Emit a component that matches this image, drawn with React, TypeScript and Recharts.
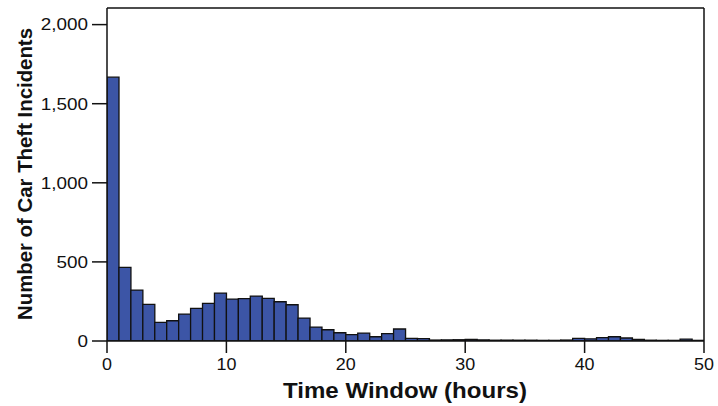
import React from 'react';
import { BarChart, Bar, XAxis, YAxis, ReferenceLine } from 'recharts';

// one-hour bins, 0..49
const binStarts = [
  0, 1, 2, 3, 4, 5, 6, 7, 8, 9, 10, 11, 12, 13, 14, 15, 16, 17, 18, 19, 20, 21, 22, 23, 24,
  25, 26, 27, 28, 29, 30, 31, 32, 33, 34, 35, 36, 37, 38, 39, 40, 41, 42, 43, 44, 45, 46, 47, 48, 49,
];
const incidents = [
  1668, 465, 322, 231, 118, 128, 170, 206, 238, 303, 265, 268, 284, 269, 248, 229, 145, 88, 71, 52,
  40, 50, 27, 46, 76, 17, 15, 6, 7, 8, 10, 7, 5, 6, 5, 5, 4, 4, 6, 17,
  14, 21, 27, 19, 10, 5, 4, 4, 12, 4,
];
const hourTicks = [0, 10, 20, 30, 40, 50];
const countTicks = [0, 500, 1000, 1500, 2000];

// bar sits in the middle of its one-hour bin
const data = binStarts.map((b, i) => ({ mid: b + 0.5, count: incidents[i] }));

const FONT = '"Liberation Sans", Arial, Helvetica, sans-serif';

const YTick = ({ x, y, payload }: any) => (
  <text
    transform={`translate(${x},${y + 5.8}) scale(1.18,1)`}
    textAnchor="end"
    fontSize={16}
    fontFamily={FONT}
    fill="#111"
  >
    {Number(payload.value).toLocaleString('en-US')}
  </text>
);

const XTick = ({ x, y, payload }: any) => (
  <text
    transform={`translate(${x},${y + 17}) scale(1.12,1)`}
    textAnchor="middle"
    fontSize={16}
    fontFamily={FONT}
    fill="#111"
  >
    {payload.value}
  </text>
);

export default function App() {
  return (
    <div style={{ width: 718, height: 406 }}>
      <style>{`body{margin:0;background:#fff}`}</style>
      <BarChart
        width={718}
        height={406}
        data={data}
        margin={{ top: 8, right: 14, left: 0, bottom: 0 }}
        barCategoryGap={0}
        barGap={0}
      >
        <XAxis
          dataKey="mid"
          type="number"
          domain={[0, 50]}
          ticks={hourTicks}
          allowDataOverflow
          height={65}
          stroke="#111"
          strokeWidth={1.5}
          tickSize={12}
          tickMargin={0}
          tickLine={{ stroke: '#111', strokeWidth: 1.5 }}
          tick={<XTick />}
          label={{
            content: () => (
              <text
                x={405}
                y={398}
                textAnchor="middle"
                fontSize={22}
                fontWeight="bold"
                fontFamily={FONT}
                textLength={244}
                lengthAdjust="spacingAndGlyphs"
                fill="#111"
              >
                Time Window (hours)
              </text>
            ),
          }}
        />
        <YAxis
          width={107}
          domain={[0, 2105]}
          ticks={countTicks}
          allowDataOverflow
          stroke="#111"
          strokeWidth={1.5}
          tickSize={15}
          tickMargin={4}
          tickLine={{ stroke: '#111', strokeWidth: 1.5 }}
          tick={<YTick />}
          label={{
            content: () => (
              <text
                transform="translate(32,174) rotate(-90)"
                textAnchor="middle"
                fontSize={20}
                fontWeight="bold"
                fontFamily={FONT}
                textLength={292}
                lengthAdjust="spacingAndGlyphs"
                fill="#111"
              >
                Number of Car Theft Incidents
              </text>
            ),
          }}
        />
        <ReferenceLine y={2105} stroke="#111" strokeWidth={1.5} />
        <ReferenceLine x={50} stroke="#111" strokeWidth={1.5} />
        <Bar
          dataKey="count"
          fill="#3c55a6"
          stroke="#111"
          strokeWidth={1.3}
          isAnimationActive={false}
        />
      </BarChart>
    </div>
  );
}
